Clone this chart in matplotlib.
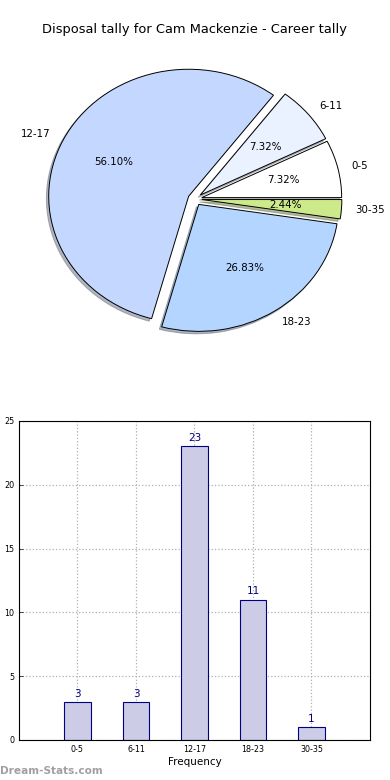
import matplotlib
matplotlib.use("Agg")
import matplotlib.pyplot as plt

# Data
categories = ['0-5', '6-11', '12-17', '18-23', '30-35']
counts = [3, 3, 23, 11, 1]
slice_colors = ['#ffffff', '#eaf2ff', '#c4d8ff', '#b4d5ff', '#cdea8a']
title = 'Disposal tally for Cam Mackenzie - Career tally'

fig = plt.figure(figsize=(3.9, 7.8), dpi=100)

# Pie (drawn as a stretched ellipse, like the old-style output)
ax1 = fig.add_axes([0.0513, 0.5413, 0.897, 0.407])
ax1.pie(counts, labels=categories, colors=slice_colors, autopct='%1.2f%%',
        explode=[0.05] * len(counts),
        shadow={'ox': -0.012, 'oy': -0.014, 'shade': 0.5},
        startangle=0,
        wedgeprops={'edgecolor': 'black', 'linewidth': 0.7},
        textprops={'fontsize': 7.4})
ax1.set_aspect('auto')
ax1.set_xlim(-1.25, 1.25)
ax1.set_ylim(-1.25, 1.25)
fig.text(0.5, 1 - 30 / 780, title, ha='center', va='center', fontsize=9.4)

# Bar chart
ax2 = fig.add_axes([0.0487, 0.0513, 0.9, 0.409])
xpos = list(range(len(categories)))
ax2.bar(xpos, counts, width=0.45, color='#ccccE6', edgecolor='#000080', linewidth=0.8, zorder=2)
for x, v in zip(xpos, counts):
    ax2.text(x, v + 0.25, str(v), ha='center', va='bottom', color='#000080', fontsize=7.5)
ax2.set_xlim(-1, 5)
ax2.set_ylim(0, 25)
ax2.set_xticks(xpos)
ax2.set_xticklabels(categories)
ax2.set_yticks([0, 5, 10, 15, 20, 25])
ax2.tick_params(labelsize=5.8, direction='in', length=3, width=0.5)
ax2.grid(True, linestyle=':', color='#b0b0b0', linewidth=0.9, zorder=0)
ax2.set_axisbelow(True)
ax2.set_xlabel('Frequency', fontsize=7.5, labelpad=2)
ax2.set_ylabel('Number of Games', fontsize=7.5)
ax2.yaxis.set_label_coords(-0.047, 0.5)

fig.text(0.0, 1 - 771 / 780, 'Dream-Stats.com', ha='left', va='center',
         fontsize=7.6, color='#a0a0a0', fontweight='bold')

fig.savefig('out.png', dpi=100)
